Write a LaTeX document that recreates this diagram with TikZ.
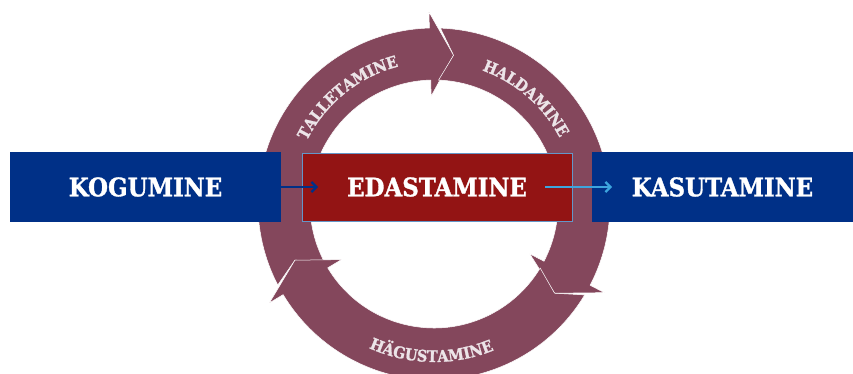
\documentclass[tikz,border=0pt]{standalone}
\usepackage{fontspec}
\setmainfont{DejaVu Serif}
\newfontfamily\labfont{DejaVu Serif Condensed}[BoldFeatures={FakeBold=1.3}]
\usetikzlibrary{arrows.meta,decorations.text}
\definecolor{kblue}{RGB}{0,48,135}
\definecolor{kred}{RGB}{147,20,20}
\definecolor{kring}{RGB}{132,71,92}
\definecolor{ringtxt}{RGB}{236,228,232}
\definecolor{lblue}{RGB}{61,165,222}
\definecolor{edge}{RGB}{100,150,200}
\newcommand\ringseg[4]{% A tail, N notch, B head base, T tip
  \fill[kring, draw=white, line width=0.5pt]
    (#1:176pt) arc[start angle=#1, end angle=#3, radius=176pt]
    -- (#3:192pt) -- (#4:150pt) -- (#3:108pt) -- (#3:124pt)
    arc[start angle=#3, end angle=#1, radius=124pt]
    -- (#2:150pt) -- cycle;}
\newcommand\ringfont{\labfont\bfseries\fontsize{16}{16}\selectfont}
\begin{document}
\begin{tikzpicture}[x=1pt,y=1pt,
  bigbox/.style={minimum height=70pt, inner sep=0pt, text=white,
    font=\labfont\bfseries\fontsize{25.5}{26}\selectfont},
  ringlabel/.style={decorate, decoration={text along path, text align=center}}]
\useasboundingbox (0,0) rectangle (853,374);
\begin{scope}[shift={(434,170)}]
  \ringseg{207.4}{202}{91.5}{82.5}
  \ringseg{87.9}{82.5}{-27.5}{-36.5}
  \ringseg{-31.1}{-36.5}{-149}{-158}
  \path[ringlabel, decoration={text={|\ringfont\color{ringtxt}|TALLETAMINE}}]
    (169:142pt) arc[start angle=169, end angle=89, radius=142pt];
  \path[ringlabel, decoration={text={|\ringfont\color{ringtxt}|HALDAMINE}}]
    (89:142pt) arc[start angle=89, end angle=9, radius=142pt];
  \path[ringlabel, decoration={text={|\ringfont\color{ringtxt}|HÄGUSTAMINE}}]
    (-131:158pt) arc[start angle=-131, end angle=-51, radius=158pt];
\end{scope}
\node[bigbox, fill=kblue, minimum width=271pt] (kog) at (145.5,187) {KOGUMINE};
\node[bigbox, fill=kred, draw=edge, line width=0.6pt, minimum width=270pt, minimum height=68pt] (eda) at (437,187) {EDASTAMINE};
\node[bigbox, fill=kblue, minimum width=261pt] (kas) at (722.5,187) {KASUTAMINE};
\coordinate (a1e) at (318,187);
\coordinate (a2s) at (545,187);
\coordinate (a2e) at (612,187);
\draw[kblue, line width=2.2pt, -{Straight Barb[length=5pt,width=10pt]}] (kog.east) -- (a1e);
\draw[lblue, line width=2.2pt, -{Straight Barb[length=5pt,width=10pt]}] (a2s) -- (a2e);
\end{tikzpicture}
\end{document}
